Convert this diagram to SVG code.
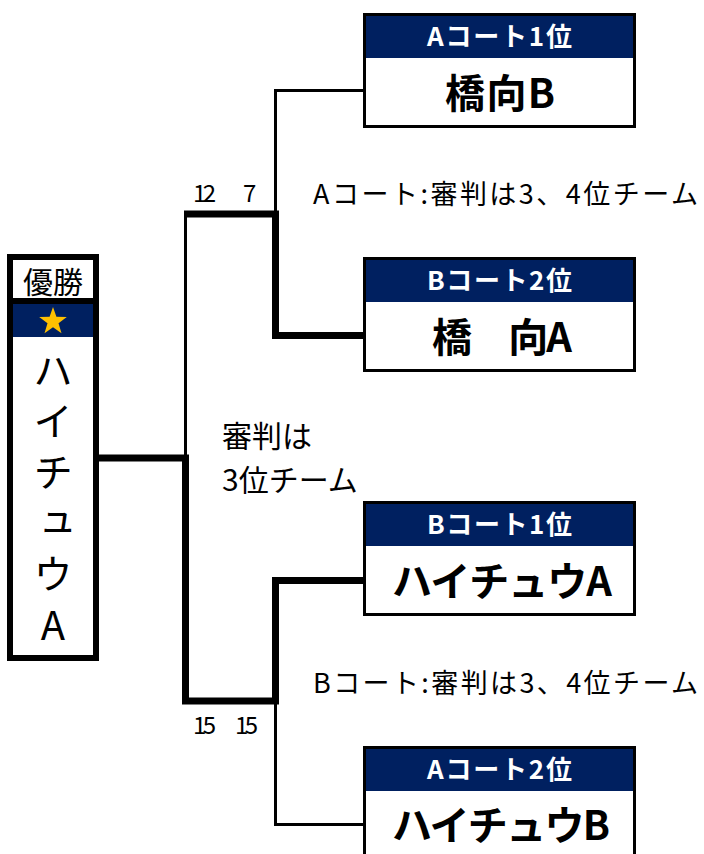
<svg xmlns="http://www.w3.org/2000/svg" width="704" height="854" viewBox="0 0 704 854">
<style>
text{font-family:"Noto Sans CJK JP","Noto Sans CJK SC",sans-serif;fill:#000}
.hd{fill:#002060}
.box{fill:#fff;stroke:#000;stroke-width:3}
.ht{fill:#fff;font-size:26px;font-weight:700;text-anchor:middle}
.nm{font-size:40px;font-weight:700;text-anchor:middle}
.wc{font-size:40px;writing-mode:vertical-rl;text-orientation:upright;letter-spacing:11px}
.lb{font-size:27px}
.sc{font-size:24px}
.thin{fill:none;stroke:#000;stroke-width:3}
.thick{fill:none;stroke:#000;stroke-width:7;stroke-linejoin:miter}
</style>
<g id="connectors">
<path class="thin" d="M364 90.5 H275.5 V214"/>
<path class="thick" d="M364 335.5 H275.5 V214 H184"/>
<path class="thin" d="M185.5 214 V458"/>
<path class="thick" d="M99 458 H185.5 V701 H275.5 V580.5 H364"/>
<path class="thin" d="M275.5 704 V824.5 H364"/>
</g>
<g id="winner">
<rect x="10" y="257" width="86" height="401" fill="#fff" stroke="#000" stroke-width="6"/>
<rect x="13" y="298" width="80" height="6" fill="#000"/>
<rect class="hd" x="13" y="304" width="80" height="33"/>
<text x="53" y="293" font-size="30" text-anchor="middle">優勝</text>
<polygon fill="#FFC000" points="53,307 56.4,316.8 66.8,317 58.5,323.3 61.5,333.2 53,327.3 44.5,333.2 47.5,323.3 39.2,317 49.6,316.8"/>
<text class="wc" x="53" y="350">ハイチュウA</text>
</g>
<g id="team-a1">
<rect class="box" x="364.5" y="14.5" width="270" height="112"/>
<rect class="hd" x="366" y="16" width="267" height="42"/>
<text class="ht" x="499.5" y="46" textLength="145">Aコート1位</text>
<text class="nm" x="500" y="108" textLength="110">橋向B</text>
</g>
<g id="team-b2">
<rect class="box" x="364.5" y="258.5" width="270" height="112"/>
<rect class="hd" x="366" y="260" width="267" height="42"/>
<text class="ht" x="499.5" y="290" textLength="145">Bコート2位</text>
<text class="nm" x="502" y="352" textLength="140">橋　向A</text>
</g>
<g id="team-b1">
<rect class="box" x="364.5" y="502.5" width="270" height="112"/>
<rect class="hd" x="366" y="504" width="267" height="42"/>
<text class="ht" x="499.5" y="534" textLength="145">Bコート1位</text>
<text class="nm" x="502" y="596" textLength="220">ハイチュウA</text>
</g>
<g id="team-a2">
<rect class="box" x="364.5" y="747.5" width="270" height="112"/>
<rect class="hd" x="366" y="749" width="267" height="42"/>
<text class="ht" x="499.5" y="779" textLength="145">Aコート2位</text>
<text class="nm" x="501" y="840" textLength="218">ハイチュウB</text>
</g>
<g id="labels">
<text class="sc" x="193" y="202" textLength="23">12</text>
<text class="sc" x="243" y="202">7</text>
<text class="sc" x="193" y="734" textLength="23">15</text>
<text class="sc" x="235" y="734" textLength="23">15</text>
<text class="lb" x="313" y="204" textLength="385">Aコート:審判は3、4位チーム</text>
<text class="lb" x="313" y="693" textLength="385">Bコート:審判は3、4位チーム</text>
<text x="222" y="447" font-size="30">審判は</text>
<text x="222" y="491" font-size="30">3位チーム</text>
</g>
</svg>
